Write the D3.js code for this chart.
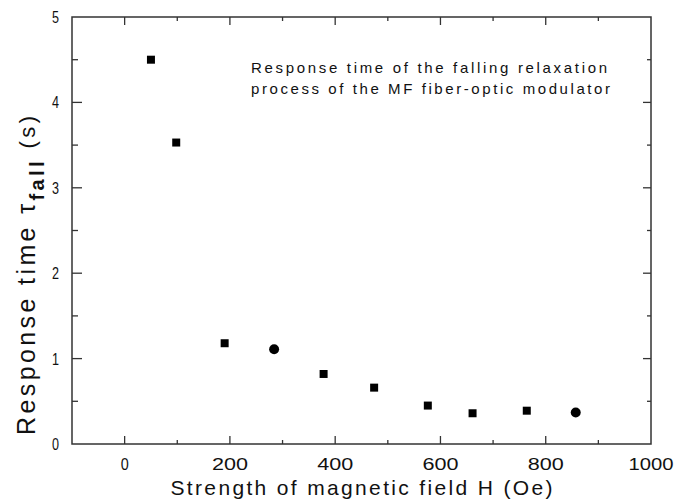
<!DOCTYPE html>
<html>
<head>
<meta charset="utf-8">
<script src="https://cdn.jsdelivr.net/npm/d3@7"></script>
<style>
  body { margin: 0; background: #fff; }
  svg text { font-family: "Liberation Sans", Arial, sans-serif; fill: #111; }
</style>
</head>
<body>
<script>
// data
const fieldH = [50, 98, 190, 284, 378, 474, 576, 661, 764, 857];
const tauFall = [4.50, 3.53, 1.18, 1.11, 0.82, 0.66, 0.45, 0.36, 0.39, 0.37];
const markerShape = ["square", "square", "square", "circle", "square", "square", "square", "square", "square", "circle"];
const xTicks = [0, 200, 400, 600, 800, 1000];
const xMinor = [100, 300, 500, 700, 900];
const yTicks = [0, 1, 2, 3, 4, 5];
const yMinor = [0.5, 1.5, 2.5, 3.5, 4.5];
const noteLines = ["Response time of the falling relaxation", "process of the MF fiber-optic modulator"];

const margin = {top: 17, right: 35, bottom: 57, left: 72};
const W = 686, H = 501;
const width = W - margin.left - margin.right;
const height = H - margin.top - margin.bottom;

const svg = d3.select("body").append("svg")
    .attr("width", W)
    .attr("height", H);
const g = svg.append("g")
    .attr("transform", "translate(" + margin.left + "," + margin.top + ")");

const x = d3.scaleLinear().domain([-100, 1000]).range([0, width]);
const y = d3.scaleLinear().domain([0, 5]).range([height, 0]);

// frame
g.append("rect")
    .attr("width", width).attr("height", height)
    .attr("fill", "none").attr("stroke", "#333").attr("stroke-width", 1.5);

const tickStroke = "#333";
// ticks on all four sides, pointing inward
function ticks(vals, len, horizontal) {
  vals.forEach(v => {
    if (horizontal) {
      g.append("line").attr("x1", x(v)).attr("x2", x(v)).attr("y1", height).attr("y2", height - len)
        .attr("stroke", tickStroke).attr("stroke-width", 1.3);
      g.append("line").attr("x1", x(v)).attr("x2", x(v)).attr("y1", 0).attr("y2", len)
        .attr("stroke", tickStroke).attr("stroke-width", 1.3);
    } else {
      g.append("line").attr("y1", y(v)).attr("y2", y(v)).attr("x1", 0).attr("x2", len + 2)
        .attr("stroke", tickStroke).attr("stroke-width", 1.3);
      g.append("line").attr("y1", y(v)).attr("y2", y(v)).attr("x1", width).attr("x2", width - len)
        .attr("stroke", tickStroke).attr("stroke-width", 1.3);
    }
  });
}
ticks(xTicks.filter(v => v < 1000), 8, true);
ticks(xMinor, 4, true);
ticks(yTicks.filter(v => v > 0 && v < 5), 8, false);
ticks(yMinor, 4, false);

// tick labels
g.selectAll(".xlab").data(xTicks).enter().append("text")
    .attr("class", "xlab")
    .attr("x", d => x(d)).attr("y", height + 26)
    .attr("text-anchor", "middle")
    .style("font-size", "16px")
    .attr("textLength", d => d === 0 ? 8 : (String(d).length === 3 ? 36 : 45))
    .attr("lengthAdjust", "spacingAndGlyphs")
    .text(d => d);

g.selectAll(".ylab").data(yTicks).enter().append("text")
    .attr("class", "ylab")
    .attr("x", -13).attr("y", d => y(d) + 6)
    .attr("text-anchor", "end")
    .style("font-size", "16px")
    .attr("textLength", 7)
    .attr("lengthAdjust", "spacingAndGlyphs")
    .text(d => d);

// axis titles
g.append("text")
    .attr("x", width / 2).attr("y", height + 51)
    .attr("text-anchor", "middle")
    .style("font-size", "21px")
    .attr("textLength", 382).attr("lengthAdjust", "spacing")
    .text("Strength of magnetic field H (Oe)");

const yt = svg.append("text")
    .attr("transform", "translate(35,435) rotate(-90)")
    .style("font-size", "25px")
    .attr("textLength", 319).attr("lengthAdjust", "spacing");
yt.append("tspan").text("Response time \u03c4");
yt.append("tspan").attr("dy", 9).style("font-weight", "bold").style("font-size", "20px").text("fall");
yt.append("tspan").attr("dy", -9).style("font-size", "22px").text(" (s)");

// annotation
g.selectAll(".note").data(noteLines).enter().append("text")
    .attr("class", "note")
    .attr("x", 179).attr("y", (d, i) => 56 + i * 21)
    .style("font-size", "15px")
    .attr("textLength", (d, i) => i === 0 ? 356 : 359)
    .attr("lengthAdjust", "spacing")
    .text(d => d);

// points
const pts = fieldH.map((h, i) => ({h: h, t: tauFall[i], shape: markerShape[i]}));
g.selectAll(".pt").data(pts).enter().append("path")
    .attr("class", "pt")
    .attr("transform", d => "translate(" + x(d.h) + "," + y(d.t) + ")")
    .attr("d", d => d3.symbol().type(d.shape === "circle" ? d3.symbolCircle : d3.symbolSquare)
        .size(d.shape === "circle" ? 78 : 64)())
    .attr("fill", "#000");
</script>
</body>
</html>
